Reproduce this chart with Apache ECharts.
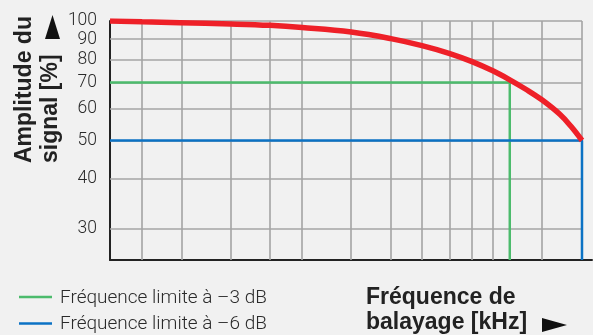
<!DOCTYPE html>
<html>
<head>
<meta charset="utf-8">
<script src="https://cdn.jsdelivr.net/npm/echarts@6/dist/echarts.min.js"></script>
<style>
html,body{margin:0;padding:0;background:#f1f1f1;}
#c{width:593px;height:335px;}
</style>
</head>
<body>
<div id="c"></div>
<script>
// Data
const curveX = [0, 6.8, 14.8, 25.6, 33.9, 40.7, 51.1, 59.5, 66.1, 72.0, 76.7, 81.1, 84.7, 88.1, 91.5, 95.3, 97.7, 100];
const curveY = [100, 99.5, 99.0, 98.3, 97.5, 96.3, 93.8, 90.3, 86.7, 82.8, 79.0, 74.9, 71.1, 67.3, 63.3, 58.2, 54.2, 50];
const yTickLabels = [100, 90, 80, 70, 60, 50, 40, 30];
const xGridValues = [6.8, 15.3, 25.6, 33.9, 40.7, 51.1, 59.5, 66.1, 72.0, 76.7, 81.1, 91.5, 100];
const limit3dB = { freq: 84.7, amp: 70 };
const limit6dB = { freq: 100, amp: 50 };
const yMin = 25, yMax = 100, xMin = 0, xMax = 102.12;
const legendLabels = ['Fréquence limite à –3 dB', 'Fréquence limite à –6 dB'];
const yTitle = ['Amplitude du', 'signal [%]'];
const xTitle = ['Fréquence de', 'balayage [kHz]'];

const chart = echarts.init(document.getElementById('c'), null, {renderer: 'canvas'});
const gridColor = '#a4a4a4';
const titleFont = 'bold 23px "Liberation Sans", Arial, sans-serif';
const option = {
  backgroundColor: '#f1f1f1',
  animation: false,
  grid: {left: 110, top: 21, right: 1, bottom: 75, containLabel: false},
  xAxis: {
    type: 'value', min: xMin, max: xMax,
    axisLine: {show: true, lineStyle: {color: '#222', width: 2}},
    axisTick: {show: false}, axisLabel: {show: false}, splitLine: {show: false}
  },
  yAxis: {
    type: 'log', logBase: 10, min: yMin, max: yMax,
    axisLine: {show: true, lineStyle: {color: '#222', width: 2}},
    axisTick: {show: false},
    splitLine: {show: false},
    axisLabel: {
      show: true, customValues: yTickLabels, margin: 13,
      fontFamily: 'Roboto', fontWeight: 300, fontSize: 17.5, color: '#2a2a2a',
      formatter: v => String(Math.round(v))
    }
  },
  graphic: [
    {type: 'text', x: 25, y: 163, rotation: Math.PI/2, style: {text: yTitle[0], font: titleFont, fill: '#222', align: 'left', verticalAlign: 'middle'}},
    {type: 'text', x: 51, y: 163, rotation: Math.PI/2, style: {text: yTitle[1], font: titleFont, fill: '#222', align: 'left', verticalAlign: 'middle'}},
    {type: 'polygon', shape: {points: [[52.5, 15], [60, 39], [45, 39]]}, style: {fill: '#111'}},
    {type: 'line', shape: {x1: 19, y1: 297, x2: 52, y2: 297}, style: {stroke: '#4cbb6c', lineWidth: 2.5}},
    {type: 'line', shape: {x1: 19, y1: 323.5, x2: 52, y2: 323.5}, style: {stroke: '#0b72c4', lineWidth: 2.5}},
    {type: 'text', x: 60, y: 298, style: {text: legendLabels[0], font: '300 19px Roboto', fill: '#2a2a2a', verticalAlign: 'middle'}},
    {type: 'text', x: 60, y: 324, style: {text: legendLabels[1], font: '300 19px Roboto', fill: '#2a2a2a', verticalAlign: 'middle'}},
    {type: 'text', x: 366, y: 298, style: {text: xTitle[0], font: titleFont, fill: '#222', verticalAlign: 'middle'}},
    {type: 'text', x: 366, y: 323, style: {text: xTitle[1], font: titleFont, fill: '#222', verticalAlign: 'middle'}},
    {type: 'polygon', shape: {points: [[542, 318], [567, 325], [542, 332]]}, style: {fill: '#111'}}
  ],
  series: [
    {
      type: 'line', data: [], silent: true, z: 1,
      markLine: {
        silent: true, symbol: 'none', animation: false, z: 1,
        lineStyle: {color: gridColor, width: 1.6, type: 'solid'},
        label: {show: false},
        emphasis: {disabled: true},
        data: [
          ...xGridValues.map(v => ({xAxis: v})),
          ...yTickLabels.map(v => [{coord: [xMin, v]}, {coord: [limit6dB.freq, v]}])
        ]
      }
    },
    {
      name: legendLabels[0], type: 'line', showSymbol: false, symbol: 'none',
      lineStyle: {color: '#4cbb6c', width: 2.5}, itemStyle: {color: '#4cbb6c'},
      data: [[xMin, limit3dB.amp], [limit3dB.freq, limit3dB.amp], [limit3dB.freq, yMin]], z: 3
    },
    {
      name: legendLabels[1], type: 'line', showSymbol: false, symbol: 'none',
      lineStyle: {color: '#0b72c4', width: 2.5}, itemStyle: {color: '#0b72c4'},
      data: [[xMin, limit6dB.amp], [limit6dB.freq, limit6dB.amp], [limit6dB.freq, yMin]], z: 3
    },
    {
      type: 'line', showSymbol: false, symbol: 'none', smooth: 0.4,
      lineStyle: {color: '#ee2028', width: 5.5}, itemStyle: {color: '#ee2028'},
      data: curveX.map((x, i) => [x, curveY[i]]), z: 4
    }
  ]
};
chart.setOption(option);
</script>
</body>
</html>
